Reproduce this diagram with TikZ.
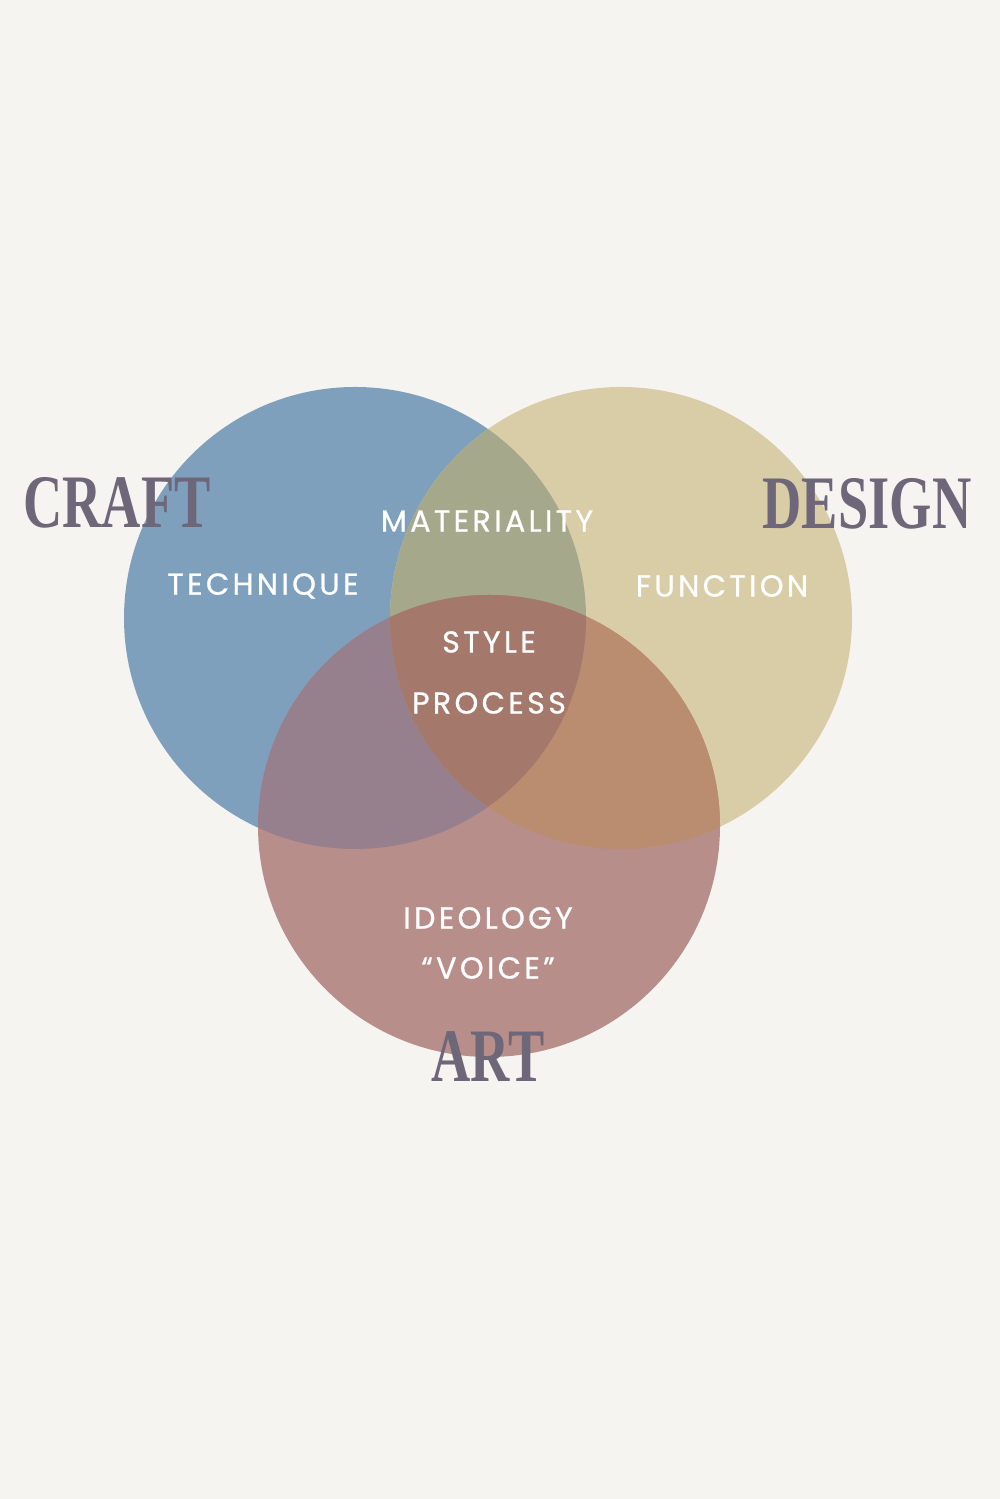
\documentclass[tikz,border=0pt]{standalone}
\usepackage{fontspec}
\newfontfamily\headfont[FakeStretch=0.72]{Liberation Serif}
\newfontfamily\areafont[LetterSpace=11,FakeBold=0.8]{Poppins}

\definecolor{paper}{HTML}{F5F4F0}
\definecolor{craftblue}{HTML}{7FA0BC}
\definecolor{designsand}{HTML}{D8CDA6}
\definecolor{artrose}{HTML}{B88E8A}
\definecolor{craftdesign}{HTML}{A6A88C}
\definecolor{craftart}{HTML}{96808D}
\definecolor{designart}{HTML}{BA8C70}
\definecolor{allthree}{HTML}{A4786A}
\definecolor{headink}{HTML}{6E6679}

\tikzset{
  heading/.style={text=headink,font=\headfont\bfseries\fontsize{21.5}{24}\selectfont,inner sep=0pt},
  area/.style={text=white,font=\areafont\fontsize{8.6}{10}\selectfont,inner sep=0pt,align=center}
}

\begin{document}
\begin{tikzpicture}
	    % Paper and the size of the page
	    \fill[paper] (0,0) rectangle (10,14.99);
	    \useasboundingbox (0,0) rectangle (10,14.99);

	    % Centres of the three circles
	    \coordinate (craft c) at (3.55,8.81);
	    \coordinate (design c) at (6.21,8.81);
	    \coordinate (art c) at (4.89,6.73);
	    \def\rad{2.31}

	    % The three circles
	    \fill[craftblue] (craft c) circle (\rad);
	    \fill[designsand] (design c) circle (\rad);
	    \fill[artrose] (art c) circle (\rad);

	    % Overlaps of two circles
	    \begin{scope}
		\clip (craft c) circle (\rad);
		\fill[craftdesign] (design c) circle (\rad);
		\fill[craftart] (art c) circle (\rad);
	    \end{scope}
	    \begin{scope}
		\clip (design c) circle (\rad);
		\fill[designart] (art c) circle (\rad);
	    \end{scope}

	    % And the middle, where all three meet
	    \begin{scope}
		\clip (craft c) circle (\rad);
		\clip (design c) circle (\rad);
		\fill[allthree] (art c) circle (\rad);
	    \end{scope}

	    % Names of the circles
	    \node[heading] (craft) at (1.17,9.96) {CRAFT};
	    \node[heading] (design) at (8.67,9.95) {DESIGN};
	    \node[heading] (art) at (4.88,4.42) {ART};

	    % What sits in each area
	    \node[area] (materiality) at (4.87,9.78) {MATERIALITY};
	    \node[area] (technique) at (2.63,9.13) {TECHNIQUE};
	    \node[area] (function) at (7.22,9.13) {FUNCTION};
	    \node[area] (style) at (4.89,8.57) {STYLE};
	    \node[area] (process) at (4.89,7.96) {PROCESS};
	    \node[area] (ideology) at (4.88,5.81) {IDEOLOGY};
	    \node[area] (voice) at (4.88,5.31) {“VOICE”};
\end{tikzpicture}
\end{document}
